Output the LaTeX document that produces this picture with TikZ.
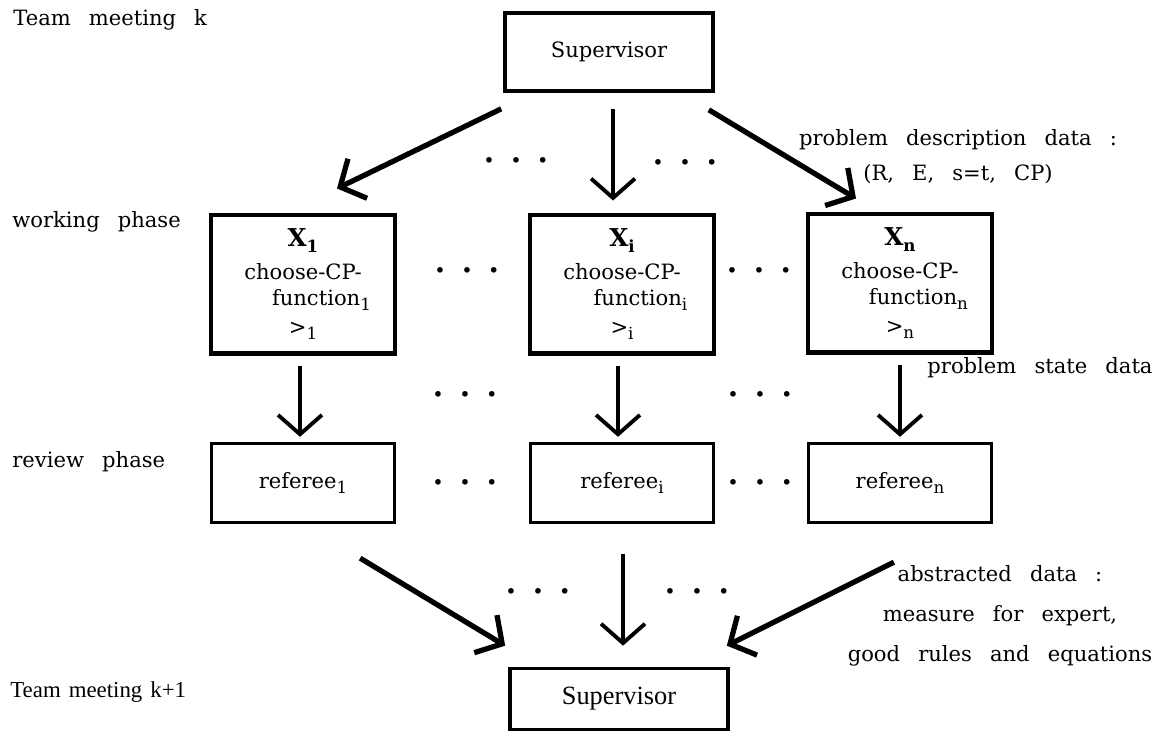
\documentclass[tikz,border=0pt]{standalone}
\usepackage{fontspec}
\setmainfont[WordSpace=2.7]{DejaVu Serif}
\newfontfamily\plainserif[WordSpace=1.4]{Liberation Serif}
\usetikzlibrary{arrows.meta}
\newcommand{\threedots}{\textbullet\hspace{8.8pt}\textbullet\hspace{8.8pt}\textbullet}
\newcommand{\idx}[1]{\raisebox{-0.45ex}{\fontsize{9.5}{10}\selectfont #1}}

\begin{document}
\begin{tikzpicture}[
  x=0.02cm,y=-0.02cm,
  every node/.style={font=\fontsize{12}{14.7}\selectfont},
  workbox/.style={draw,line width=2.3pt,minimum width=3.68cm,minimum height=2.78cm,align=center,inner sep=0pt},
  refbox/.style={draw,line width=1.9pt,minimum width=3.66cm,minimum height=1.58cm},
  supbox/.style={draw,line width=2.1pt,minimum width=4.16cm,minimum height=1.56cm},
  phase/.style={anchor=west,inner sep=0pt},
  dots/.style={font=\fontsize{11}{11}\selectfont},
  down/.style={line width=2.2pt,-{Straight Barb[length=11pt,width=25pt]}},
  slant/.style={line width=3pt,-{Straight Barb[length=11pt,width=25pt]}},
]
  \useasboundingbox (0,0) rectangle (1158,731);

  % phases on the left
  \node[phase] (meetk) at (13,20) {Team meeting k};
  \node[phase] (work) at (12,222) {working phase};
  \node[phase] (review) at (12,462) {review phase};
  \node[phase,font=\plainserif\fontsize{13}{15}\selectfont] (meetk1) at (10,692) {Team meeting k+1};

  % boxes
  \node[supbox] (sup) at (609,52) {Supervisor};
  \node[workbox] (x1) at (303,284) {{\fontsize{14}{16}\selectfont\bfseries X\idx{1}}\\[4pt]
    choose-CP-\hspace*{19pt}\\ \hspace*{21pt}function\idx{1}\\[2pt] >\idx{1}};
  \node[workbox] (xi) at (622,284) {{\fontsize{14}{16}\selectfont\bfseries X\idx{i}}\\[4pt]
    choose-CP-\hspace*{19pt}\\ \hspace*{21pt}function\idx{i}\\[2pt] >\idx{i}};
  \node[workbox] (xn) at (900,283) {{\fontsize{14}{16}\selectfont\bfseries X\idx{n}}\\[4pt]
    choose-CP-\hspace*{19pt}\\ \hspace*{21pt}function\idx{n}\\[2pt] >\idx{n}};
  \node[refbox] (r1) at (303,483) {referee\idx{1}};
  \node[refbox] (ri) at (622,483) {referee\idx{i}};
  \node[refbox] (rn) at (900,483) {referee\idx{n}};
  \node[supbox,minimum width=4.36cm,minimum height=1.22cm,font=\plainserif\fontsize{15}{17}\selectfont] (supb) at (619,699) {Supervisor};

  % dots between the columns
  \node[dots] (d1) at (516,163) {\threedots};
  \node[dots] (d2) at (685,165) {\threedots};
  \node[dots] (d3) at (467,273) {\threedots};
  \node[dots] (d4) at (759,273) {\threedots};
  \node[dots] (d5) at (465,397) {\threedots};
  \node[dots] (d6) at (760,397) {\threedots};
  \node[dots] (d7) at (465,484) {\threedots};
  \node[dots] (d8) at (760,484) {\threedots};
  \node[dots] (d9) at (538,593) {\threedots};
  \node[dots] (d10) at (697,593) {\threedots};

  % data labels
  \node[align=center,font=\fontsize{12}{20}\selectfont] (descr) at (958,157) {problem description data :\\(R, E, s=t, CP)};
  \node (state) at (1040,368) {problem state data};
  \node[align=center,font=\fontsize{12}{22.7}\selectfont] (abstr) at (1000,616) {abstracted data :\\measure for expert,\\good rules and equations};

  % arrows
  \draw[slant] ([shift={(-2,16)}]sup.south west) -- ([shift={(34,-24)}]x1.north);
  \draw[down] ([shift={(4,16)}]sup.south) -- ([shift={(-9,-12)}]xi.north);
  \draw[slant] ([shift={(-6,17)}]sup.south east) -- ([shift={(-44,-13)}]xn.north);

  \draw[down] ([shift={(-3,10)}]x1.south) -- ([shift={(-3,-5)}]r1.north);
  \draw[down] ([shift={(-4,10)}]xi.south) -- ([shift={(-4,-5)}]ri.north);
  \draw[down] ([shift={(0,10)}]xn.south) -- ([shift={(0,-5)}]rn.north);

  \draw[slant] ([shift={(-36,34)}]r1.south east) -- ([shift={(-3,-21)}]supb.north west);
  \draw[down] ([shift={(1,30)}]ri.south) -- ([shift={(4,-21)}]supb.north);
  \draw[slant] ([shift={(87,38)}]rn.south west) -- ([shift={(-3,-21)}]supb.north east);
\end{tikzpicture}
\end{document}
